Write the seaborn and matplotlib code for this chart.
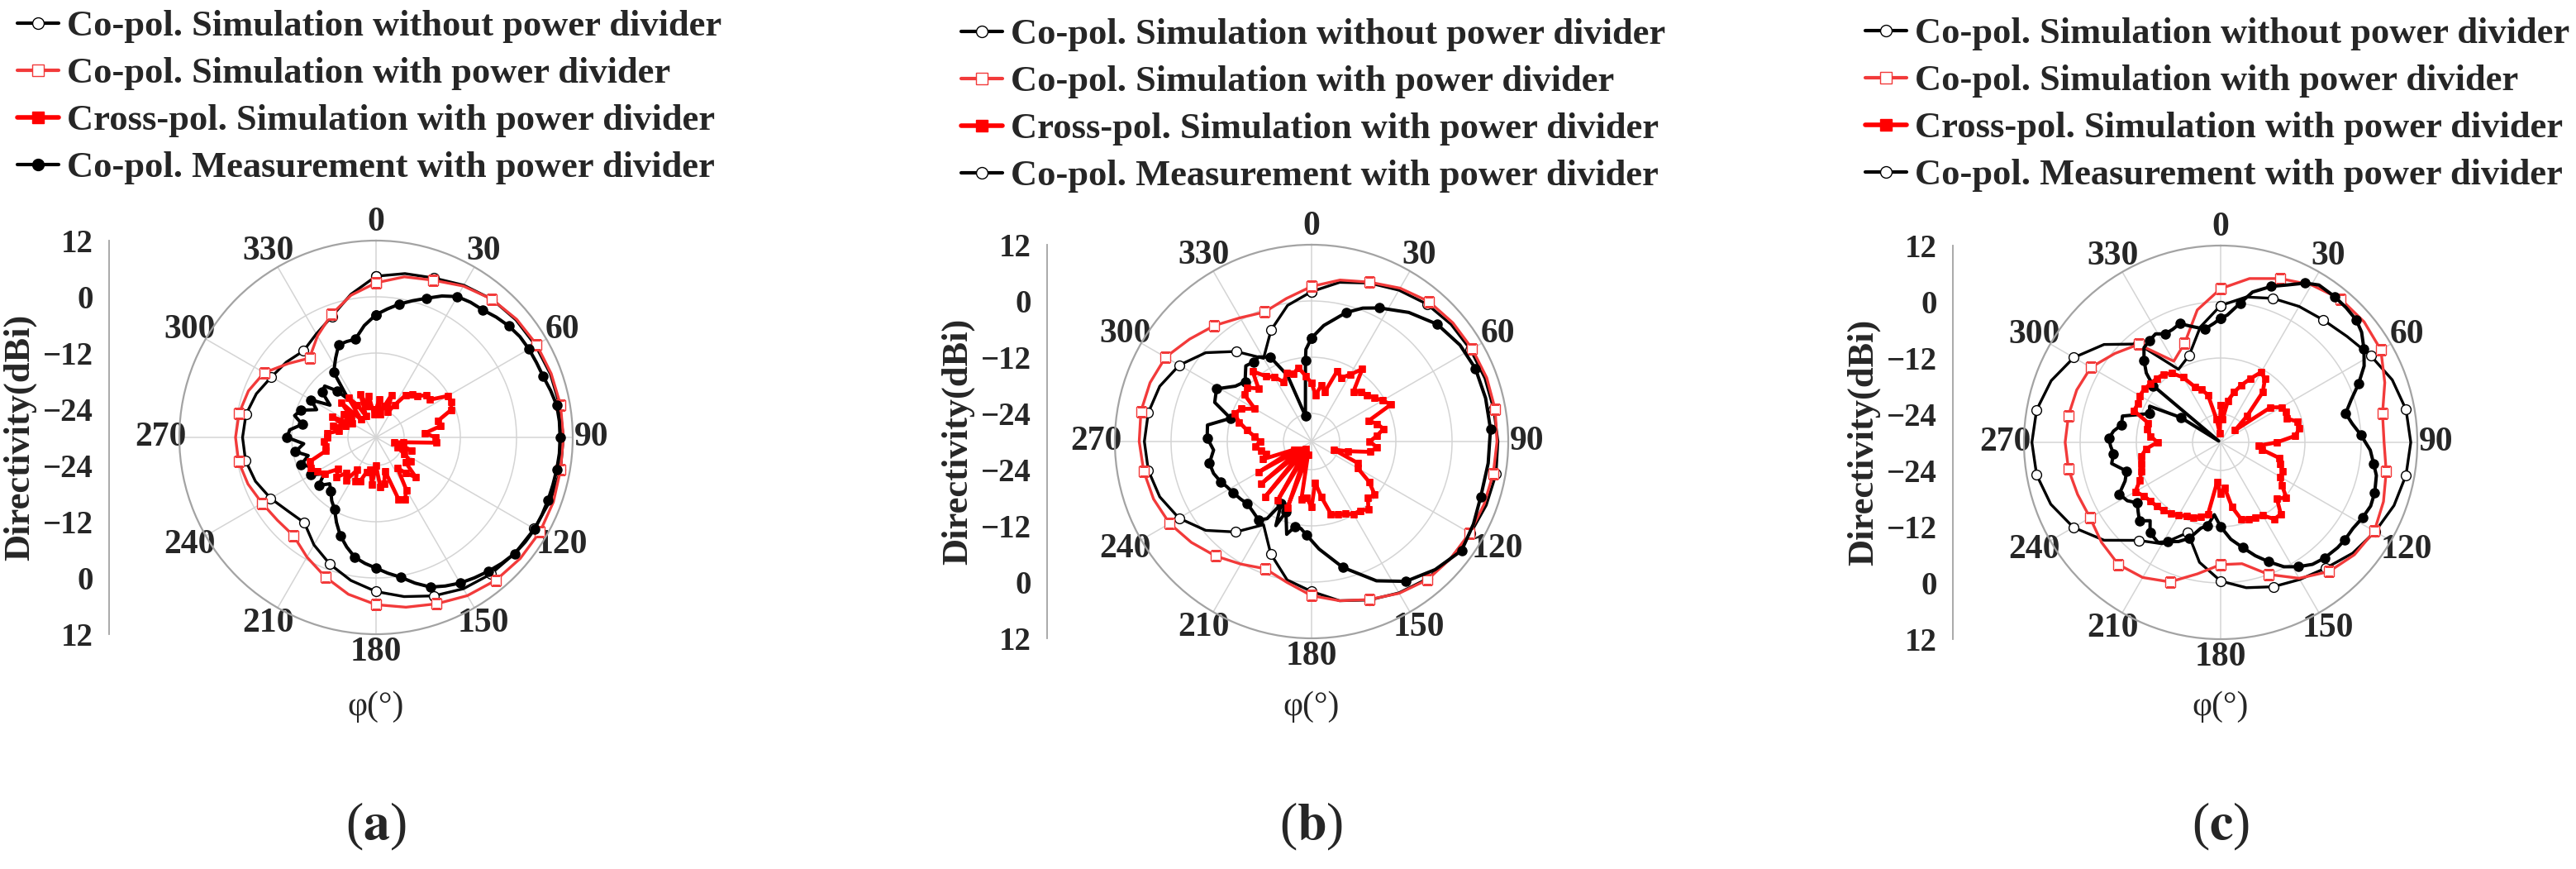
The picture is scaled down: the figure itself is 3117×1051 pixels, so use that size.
import numpy as np
import matplotlib
matplotlib.use("Agg")
import matplotlib.pyplot as plt
import seaborn as sns
from matplotlib.lines import Line2D

sns.set_theme(style="white")
plt.rcParams["font.family"] = ["Liberation Serif", "DejaVu Serif"]
plt.rcParams["mathtext.fontset"] = "stix"

# ---------------- data (dBi) ----------------
SIM_ANGLES = np.arange(0, 360, 10)
CROSS_ANGLES = np.arange(0, 360, 5)

A_SIM_NO_DIV = [4.4, 5.5, 6.2, 7.5, 8.5, 9.0, 9.3, 9.6, 9.8, 10.0, 10.0, 9.6, 9.0, 8.6, 8.1, 7.3, 6.0, 4.5,
                2.9, 1.0, -1.2, -3.5, -6.2, -5.5, -4.0, -2.6, -1.7, -1.5, -1.8, -2.8, -4.2, -5.0, -5.9, -4.5, -2.5, 1.0]
A_SIM_DIV = [3.0, 4.8, 5.7, 7.3, 8.5, 9.2, 9.6, 9.8, 10.0, 10.0, 10.0, 10.3, 10.4, 10.2, 9.8, 9.0, 7.8, 6.8,
             5.7, 4.0, 1.7, -0.5, -2.6, -2.5, -1.9, -0.9, -0.2, 0.0, -0.3, -1.0, -2.4, -5.5, -7.9, -5.0, -2.1, 0.8]
A_CROSS = [-24, -21.8, -25, -23, -20.4, -24, -22, -19, -18, -17.5,
           -16, -16, -12.3, -12.2, -13, -16.3, -16, -19.5, -17.3, -17,
           -24, -26, -22, -25, -23, -21, -21.8, -18, -20, -22,
           -17, -15.4, -16, -22.6, -20, -19.3, -24, -19.9, -23, -22.4,
           -20, -19.6, -22, -18.9, -20, -18, -19.5, -16.6, -15.5, -14.7,
           -15, -18.9, -19, -18.9, -19.5, -19.6, -22, -20.5, -23, -19.7,
           -24, -21.5, -23, -19.5, -25, -19.7, -22, -25, -20.3, -23,
           -21, -25]
A_MEAS_ANG = [0, 5, 10, 15, 20, 25, 30, 35, 40, 45, 50, 55, 60, 65, 70, 75, 80, 85, 90, 95, 100, 105, 110,
              115, 120, 125, 130, 135, 140, 145, 150, 155, 160, 165, 170, 175, 180, 185, 190, 195, 200, 205,
              210, 215, 220, 225, 230, 235, 240, 245, 250, 255, 260, 265, 270, 275, 280, 285, 290, 295, 300,
              305, 310, 315, 320, 324, 327, 333, 338, 343, 348, 354]
A_MEAS = [-3.8, -2.5, -1.1, 0.2, 1.6, 3.3, 4.7, 5.2, 5.5, 6.3,
          7.0, 7.5, 7.7, 7.8, 8.0, 8.6, 9.2, 9.3, 9.3, 9.3,
          9.2, 9.1, 9.1, 9.1, 9.1, 8.9, 8.6, 8.0, 7.3, 6.6,
          5.9, 5.0, 4.0, 2.2, 0.3, -0.9, -2.1, -3.0, -4.0, -5.8,
          -7.7, -10.0, -12.3, -13.5, -15.0, -16.0, -14.0, -16.5, -14.0, -15.0,
          -13.0, -15.0, -12.5, -14.5, -11.0, -11.5, -14.0, -12.0, -13.0, -16.0,
          -14.0, -18.0, -15.0, -14.5, -17.0, -20.0, -13.4, -11.0, -8.7, -8.6, -8.6, -6.0]

B_SIM_NO_DIV = [2.0, 4.5, 6.0, 7.3, 8.3, 8.9, 9.2, 9.4, 9.5, 9.8, 10.0, 9.7, 9.2, 8.8, 8.3, 7.3, 6.0, 4.5,
                2.0, 0.0, -4.5, -9.5, -4.8, -0.5, 2.7, 4.5, 5.4, 5.7, 5.4, 4.5, 2.6, -0.5, -4.9, -9.5, -4.7, -0.5]
B_SIM_DIV = [3.1, 5.0, 6.2, 7.8, 9.0, 9.4, 9.6, 9.8, 9.8, 9.6, 9.4, 9.2, 9.0, 8.8, 8.5, 7.4, 5.9, 4.5,
             2.9, 0.5, -1.1, 0.2, 1.9, 3.5, 5.0, 5.9, 6.4, 6.8, 7.0, 6.7, 6.0, 4.0, 2.3, 0.5, -0.6, 1.0]
B_CROSS = [-17.5, -20, -17.8, -19, -14, -15, -13.5, -11.1, -16.1, -15,
           -14.5, -13.7, -12.5, -11.3, -17, -15.5, -14.4, -16, -17.6, -16,
           -17.3, -22, -25, -19, -18.6, -15, -12.4, -13, -11.1, -12,
           -12.1, -13, -13.4, -14, -18, -21.2, -16, -18, -17.5, -27,
           -15, -27, -15.5, -28, -14.5, -27, -16, -27, -17, -26,
           -19, -20, -19, -18, -19, -17.8, -16, -14, -12.5, -13.5,
           -16, -12.5, -12.1, -14, -10.4, -13, -14.1, -16, -14.4, -15,
           -14, -16]
B_MEAS_ANG = [0, 6, 15, 21, 27, 37, 47, 57, 66, 76, 86, 97, 108, 117, 126, 136, 146, 155, 166, 176,
              183, 187, 191, 195, 200, 203, 206, 210, 214, 220, 226, 231, 237, 242, 246, 252, 258, 265,
              272, 279, 286, 292, 299, 306, 312, 319, 324, 328, 334, 340, 346.5, 353.5, 355.7, 356.5]
B_MEAS = [-7.9, -5.1, -1.5, 0.5, 2.0, 4.5, 6.7, 7.8, 8.3, 8.3, 8.3, 8.0, 8.0, 8.8, 9.6, 8.0, 6.0, 2.8,
          -2.3, -7.0, -10.0, -11.3, -11.5, -9.5, -14.0, -10.5, -15.2, -11.0, -9.8, -10.5, -10.9, -10.5,
          -10.0, -9.5, -8.8, -8.0, -7.7, -9.0, -7.7, -7.5, -12.0, -7.7, -6.8, -9.9, -10.9, -8.6, -9.0,
          -8.7, -10.0, -15.0, -24.4, -18.5, -12.6, -10.3]

C_SIM_NO_DIV = [-0.8, 1.5, 2.7, 3.5, 4.1, 5.2, 7.0, 9.0, 10.2, 10.6, 10.2, 9.4, 8.1, 6.8, 5.0, 3.8, 2.8, 1.5,
                -0.4, -4.0, -9.5, -5.0, -2.7, 2.5, 6.3, 8.6, 9.9, 10.3, 9.9, 8.5, 6.2, 2.5, -2.6, -12.0, -10.3, -5.0]
C_SIM_DIV = [2.8, 5.5, 7.2, 8.8, 9.9, 10.0, 9.5, 7.3, 5.1, 4.9, 5.9, 7.0, 7.9, 7.3, 6.0, 3.5, 0.0, -3.7,
             -3.9, -1.5, 1.7, 3.3, 4.0, 3.2, 2.2, 2.5, 3.0, 3.2, 3.0, 2.7, 2.0, -0.5, -2.7, -10.0, -7.5, -1.3]
C_CROSS = [-22, -25, -21, -18.9, -17, -15, -12.7, -13.5, -16, -22,
           -26, -17, -15, -14.6, -15, -13, -12.9, -14, -18, -21.9,
           -21, -17, -16.5, -15.3, -15.3, -14, -11.7, -13, -10, -10,
           -12, -12.3, -12.6, -13, -16, -20.3, -19, -21.5, -14.4, -13.5,
           -13, -12.7, -12, -11.5, -11, -10.7, -10.5, -10, -9, -11,
           -12, -12.5, -12.8, -14, -16.5, -15, -14.1, -14, -10.3, -10.5,
           -10.1, -10.1, -10.5, -10.7, -11, -12, -14, -16.9, -18, -19.5,
           -25, -28]
C_MEAS_ANG = [0, 3, 8, 12, 18, 23, 28, 32, 38, 43, 48, 52, 57, 62, 67, 72, 77, 82, 87, 93, 98, 102, 108,
              113, 118, 123, 128, 132, 138, 143, 148, 153, 158, 163, 168, 174, 180, 185, 189, 193, 198, 203,
              208, 212, 218, 222, 226, 230, 234, 238, 243, 248, 253, 259, 264, 268, 272, 276, 280, 285, 292,
              297, 302, 305, 310, 313, 317, 321, 325, 329, 333, 337, 341, 346, 352, 357]
C_MEAS = [-3.5, -2.8, 0.0, 2.8, 5.0, 6.5, 8.5, 9.6, 9.5, 9.3,
          9.0, 8.2, 6.5, 4.7, 2.0, -0.7, -2.6, -1.6, 0.0, 2.0,
          3.0, 4.0, 4.6, 4.8, 4.3, 3.7, 3.7, 3.6, 3.2, 2.6,
          1.3, -0.2, -2.5, -4.7, -7.0, -9.2, -12.0, -14.5, -12.0, -11.2,
          -8.5, -7.0, -6.0, -4.8, -5.5, -7.5, -5.9, -7.0, -8.0, -6.5,
          -5.7, -8.0, -9.0, -6.3, -7.0, -6.5, -6.1, -7.0, -8.5, -8.3,
          -13.6, -13.0, -20.0, -29.5, -11.2, -8.3, -6.0, -4.0, -3.5, -3.0,
          -4.0, -3.8, -3.2, -4.5, -5.6, -4.5]

LEGEND_LABELS = ["Co-pol. Simulation without power divider",
                 "Co-pol. Simulation with power divider",
                 "Cross-pol. Simulation with power divider",
                 "Co-pol. Measurement with power divider"]
ANGLE_TICKS = [0, 30, 60, 90, 120, 150, 180, 210, 240, 270, 300, 330]
RING_TICKS = [-24, -12, 0]
AXIS_POS = [-42, -30, -18, -6, 6, 18, 30, 42]
AXIS_LABELS = ["12", "0", "\u221212", "\u221224", "\u221224", "\u221212", "0", "12"]
AXIS_MINOR = [-36, -24, -12, 0, 12, 24, 36]

R_MIN, R_MAX = -30, 12
W, H = 3117, 1051
RADIUS = 238
RED_SIM = "#f23a3a"
RED_X = "#ff0000"
GRID = "#d4d4d4"
EDGE = "#a3a3a3"
BOLD = dict(family=["Liberation Serif", "DejaVu Serif"], weight="bold")

fig = plt.figure(figsize=(W / 100, H / 100), dpi=100)


def closed(ang, val):
    ang = np.asarray(ang, dtype=float)
    return np.deg2rad(np.append(ang, ang[0] + 360)), np.append(val, val[0])


def draw_panel(cx, cy, axis_x, leg_x, leg_y, meas_legend_fill, letter,
               sim_no_div, sim_div, cross_ang, cross, meas_ang, meas):
    ax = fig.add_axes([(cx - RADIUS) / W, 1 - (cy + RADIUS) / H, 2 * RADIUS / W, 2 * RADIUS / H],
                      projection="polar")
    ax.set_theta_zero_location("N")
    ax.set_theta_direction(-1)

    t, r = closed(SIM_ANGLES, sim_no_div)
    sns.lineplot(x=t, y=r, ax=ax, sort=False, estimator=None, color="black", lw=2.4,
                 marker="o", markersize=8.5, markevery=2, mfc="white", mec="black", mew=1.0)
    t, r = closed(SIM_ANGLES, sim_div)
    sns.lineplot(x=t, y=r, ax=ax, sort=False, estimator=None, color=RED_SIM, lw=2.4,
                 marker="s", markersize=8.5, markevery=2, mfc="white", mec=RED_SIM, mew=1.0)
    t, r = closed(meas_ang, meas)
    sns.lineplot(x=t, y=r, ax=ax, sort=False, estimator=None, color="black", lw=2.9,
                 marker="o", markersize=8, markevery=2, mfc="black", mec="black", mew=1.0)
    t, r = closed(cross_ang, cross)
    sns.lineplot(x=t, y=r, ax=ax, sort=False, estimator=None, color=RED_X, lw=3.4,
                 marker="s", markersize=5.5, mfc=RED_X, mec=RED_X, mew=0.5)

    ax.set_ylim(R_MIN, R_MAX)
    ax.set_yticks(RING_TICKS)
    ax.set_yticklabels([])
    ax.set_xticks(np.deg2rad(ANGLE_TICKS))
    ax.set_xticklabels([str(a) for a in ANGLE_TICKS], fontdict=dict(size=30, **BOLD))
    ax.set_xticks(np.deg2rad([a + 15 for a in ANGLE_TICKS]), minor=True)
    ax.tick_params(axis="x", which="major", pad=9, length=0)
    ax.tick_params(axis="x", which="minor", length=5, width=1, color=EDGE, direction="in")
    ax.grid(True, which="major", color=GRID, lw=1.1)
    ax.set_xlabel("")
    ax.set_ylabel("")
    ax.spines["polar"].set_edgecolor(EDGE)
    ax.spines["polar"].set_linewidth(1.6)

    # linear dB scale on the left
    axl = fig.add_axes([axis_x / W, 1 - (cy + RADIUS) / H, 0.0001, 2 * RADIUS / H])
    axl.set_ylim(-42, 42)
    axl.set_xticks([])
    for s in ["top", "right", "bottom"]:
        axl.spines[s].set_visible(False)
    axl.spines["left"].set_color(EDGE)
    axl.spines["left"].set_linewidth(1.3)
    axl.set_yticks(AXIS_POS)
    axl.set_yticklabels(AXIS_LABELS, fontdict=dict(size=28, **BOLD))
    axl.set_yticks(AXIS_MINOR, minor=True)
    axl.tick_params(axis="y", which="both", direction="out", color=EDGE, length=8, width=1.2, pad=6)
    axl.set_ylabel("Directivity(dBi)", fontdict=dict(size=32, **BOLD), labelpad=5)
    axl.patch.set_visible(False)

    handles = [
        Line2D([], [], color="black", lw=3, marker="o", ms=10, mfc="white", mec="black", mew=1.0),
        Line2D([], [], color=RED_SIM, lw=3, marker="s", ms=10, mfc="white", mec=RED_SIM, mew=1.0),
        Line2D([], [], color=RED_X, lw=4, marker="s", ms=10, mfc=RED_X, mec=RED_X),
        Line2D([], [], color="black", lw=3, marker="o", ms=10,
               mfc="black" if meas_legend_fill else "white", mec="black", mew=1.0),
    ]
    fig.legend(handles, LEGEND_LABELS, loc="upper left", bbox_to_anchor=(leg_x / W, 1 - leg_y / H),
               bbox_transform=fig.transFigure, frameon=False, prop=dict(size=32, **BOLD),
               handlelength=1.13, handletextpad=0.22, labelspacing=0.38, borderpad=0, borderaxespad=0)

    fig.text(cx / W, 1 - 855 / H, "\u03c6(\u00b0)", ha="center", va="center", fontsize=30)
    fig.text(cx / W, 1 - 1000 / H, "(" + r"$\mathbf{" + letter + "}$" + ")", ha="center", va="center",
             fontsize=46)


draw_panel(455, 529, 132, 21, 12, True, "a",
           A_SIM_NO_DIV, A_SIM_DIV, CROSS_ANGLES, A_CROSS, A_MEAS_ANG, A_MEAS)
draw_panel(1587, 534, 1267, 1163, 22, False, "b",
           B_SIM_NO_DIV, B_SIM_DIV, CROSS_ANGLES, B_CROSS, B_MEAS_ANG, B_MEAS)
draw_panel(2687, 535, 2363, 2257, 21, False, "c",
           C_SIM_NO_DIV, C_SIM_DIV, CROSS_ANGLES, C_CROSS, C_MEAS_ANG, C_MEAS)

fig.savefig("out.png", dpi=100, facecolor="white")
